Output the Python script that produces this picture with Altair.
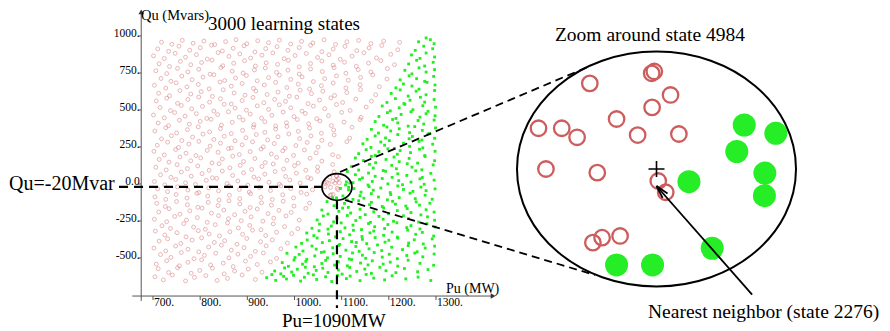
import altair as alt
import pandas as pd

# ---------------- data ----------------
# learning states that are "pink" (left of the security boundary): (Pu MW, Qu Mvar)
PINK = [
 (704,-627),(722,-648),(741,-615),(769,-655),(788,-631),(812,-619),(836,-652),(858,-638),(889,-614),(917,-645),
 (711,-572),(733,-598),(752,-566),(781,-603),(799,-584),(826,-569),(851,-607),(873,-588),(902,-575),(931,-596),
 (707,-541),(729,-518),(756,-553),(774,-529),(803,-512),(822,-547),(849,-535),(870,-558),(896,-521),(921,-544),(949,-527),
 (716,-477),(738,-496),(760,-463),(787,-505),(809,-482),(833,-468),(861,-499),(880,-474),(907,-489),(934,-466),(962,-503),
 (702,-433),(727,-452),(748,-419),(774,-441),(797,-458),(818,-426),(845,-413),(866,-447),(893,-430),(917,-455),(940,-418),(971,-438),
 (713,-386),(731,-371),(759,-402),(783,-379),(803,-364),(830,-395),(852,-383),(878,-407),(899,-368),(928,-390),(953,-377),(985,-399),
 (705,-318),(725,-344),(751,-329),(770,-357),(796,-315),(819,-338),(841,-351),(863,-323),(890,-340),(911,-312),(939,-348),(962,-326),(994,-335),
 (719,-282),(737,-300),(765,-268),(786,-291),(811,-306),(832,-275),(858,-263),(881,-297),(905,-280),(929,-309),(955,-270),(979,-288),(1007,-302),
 (703,-238),(729,-255),(746,-219),(771,-243),(794,-227),(815,-259),(839,-214),(860,-235),(887,-248),(908,-222),(933,-251),(956,-231),(982,-216),(1010,-244),
 (712,-189),(734,-167),(757,-204),(778,-181),(804,-163),(824,-197),(850,-176),(873,-208),(895,-185),(921,-169),(944,-200),(967,-178),(993,-192),(1024,-165),
 (708,-131),(726,-152),(750,-118),(773,-140),(795,-157),(817,-124),(838,-146),(861,-113),(884,-135),(906,-159),(930,-127),(951,-143),(976,-116),(999,-149),(1032,-129),
 (704,-87),(727,-104),(749,-71),(772,-95),(793,-63),(816,-82),(840,-108),(862,-76),(884,-99),(907,-66),(929,-90),(953,-105),(975,-73),(998,-94),(1026,-68),
 (710,-33),(731,-52),(752,-19),(774,-41),(797,-58),(818,-27),(839,-46),(861,-14),(883,-37),(904,-55),(926,-23),(949,-44),(971,-12),(992,-31),(1014,-57),(1038,-39),
 (703,17),(725,-6),(748,31),(769,8),(790,-3),(813,25),(835,38),(857,3),(880,20),(901,-8),(924,34),(946,12),(968,-1),(990,27),(1012,6),(1035,36),
 (716,62),(738,45),(760,81),(781,53),(804,70),(826,42),(847,88),(869,58),(892,76),(914,47),(937,66),(959,84),(981,51),(1004,73),(1028,44),(1049,86),(1084,82),
 (706,113),(728,95),(751,131),(773,104),(795,122),(819,92),(840,137),(863,109),(885,126),(909,98),(931,118),(955,135),(977,101),(1000,124),(1024,93),(1049,115),(1081,132),
 (713,166),(734,148),(757,183),(780,157),(801,176),(825,143),(847,169),(869,188),(892,152),(916,172),(938,145),(962,180),(984,160),(1008,141),(1033,174),(1058,155),(1093,185),
 (702,221),(724,196),(748,233),(770,208),(791,192),(815,227),(838,214),(860,239),(883,199),(906,219),(929,236),(951,203),(975,224),(998,193),(1021,230),(1046,211),(1081,198),
 (709,262),(731,283),(754,247),(776,270),(797,288),(821,256),(843,276),(866,243),(889,265),(911,285),(934,251),(957,273),(980,242),(1003,260),(1027,281),(1050,249),(1076,268),(1111,286),
 (718,305),(739,326),(761,294),(784,317),(806,337),(829,301),(851,322),(874,292),(897,313),(919,334),(943,298),(965,319),(988,338),(1011,307),(1035,325),(1058,295),(1084,331),(1117,310),
 (704,358),(727,380),(750,345),(773,367),(796,386),(820,352),(843,374),(866,341),(890,362),(913,384),(937,349),(960,371),(984,389),(1008,356),(1032,377),(1057,343),(1083,365),(1122,383),
 (711,412),(733,394),(756,431),(777,404),(800,423),(823,437),(845,398),(868,417),(891,433),(914,401),(937,421),(960,392),(983,414),(1006,436),(1030,407),(1054,426),(1078,395),(1105,418),(1139,435),
 (701,466),(724,447),(746,483),(768,458),(792,475),(814,443),(837,469),(860,488),(883,452),(906,473),(930,445),(952,464),(976,486),(999,455),(1023,477),(1047,441),(1072,462),(1100,484),(1141,450),
 (715,517),(737,496),(760,531),(782,508),(805,524),(829,493),(851,538),(874,513),(898,499),(921,528),(945,504),(968,535),(992,515),(1016,492),(1040,526),(1064,509),(1089,537),(1118,497),(1152,520),
 (707,562),(729,580),(752,545),(774,571),(797,588),(820,553),(843,576),(866,541),(889,564),(912,585),(935,549),(958,572),(981,558),(1005,587),(1029,543),(1053,567),(1077,582),(1102,551),(1130,574),(1163,560),
 (712,613),(735,596),(757,631),(780,608),(802,624),(826,592),(849,637),(872,615),(895,600),(918,628),(942,605),(965,621),(989,593),(1012,634),(1036,611),(1060,627),(1085,598),(1111,618),(1140,638),(1172,603),
 (703,667),(727,648),(749,684),(772,656),(796,673),(819,643),(842,689),(866,661),(889,679),(913,646),(936,669),(960,687),(984,652),(1008,674),(1032,642),(1057,664),(1082,682),(1109,649),(1139,671),(1180,657),
 (717,713),(738,694),(761,729),(783,705),(806,722),(829,738),(852,699),(875,716),(898,733),(921,697),(945,719),(968,736),(992,707),(1016,724),(1040,692),(1064,712),(1089,731),(1114,701),(1140,720),(1166,737),(1196,709),
 (706,765),(729,746),(752,781),(774,758),(797,775),(821,742),(844,787),(868,762),(891,749),(915,771),(938,784),(962,754),(986,769),(1010,743),(1034,777),(1059,760),(1084,786),(1109,748),(1135,773),(1162,757),(1197,780),
 (713,812),(735,794),(758,829),(780,806),(803,821),(825,837),(848,799),(871,816),(894,833),(917,797),(940,819),(964,808),(987,836),(1010,792),(1034,814),(1058,831),(1082,803),(1106,823),(1131,795),(1157,817),(1183,834),(1212,806),
 (701,866),(724,848),(747,883),(769,857),(792,874),(815,844),(838,888),(861,862),(884,879),(907,851),(931,870),(954,886),(978,847),(1001,868),(1025,882),(1049,855),(1073,873),(1097,843),(1122,864),(1147,887),(1174,852),(1204,876),
 (710,913),(733,896),(755,931),(778,904),(800,921),(824,938),(847,899),(870,917),(893,934),(916,892),(939,915),(963,928),(986,903),(1010,922),(1034,937),(1058,894),(1082,912),(1107,930),(1132,901),(1158,919),(1185,936),(1219,907),
 (718,958),(740,944),(762,971),(785,951),(808,966),(831,942),(854,962),(876,975),(899,948),(922,968),(945,955),(968,972),(992,946),(1015,964),(1039,953),(1063,974),(1087,943),(1111,961),(1136,970),(1162,949),(1189,966),(1223,957),
]

# learning states that are "green" (right of the boundary)
GREEN = [
 (941,-633),(952,-612),(960,-651),(977,-624),(983,-642),(998,-617),(1013,-656),(1021,-630),(1040,-614),(1047,-645),(1066,-627),(1079,-659),
 (1091,-618),(1110,-639),(1118,-622),(1139,-653),(1152,-611),(1168,-636),(1191,-648),(1207,-620),(1236,-641),(1262,-629),(1289,-652),
 (958,-588),(971,-607),(979,-567),(994,-595),(1006,-576),(1023,-562),(1029,-603),(1046,-584),(1060,-569),(1071,-598),(1093,-581),
 (1101,-609),(1117,-564),(1132,-591),(1149,-575),(1163,-604),(1181,-563),(1194,-586),(1215,-599),(1233,-571),(1261,-593),(1283,-578),
 (974,-531),(987,-556),(999,-514),(1017,-542),(1024,-523),(1042,-559),(1058,-537),(1066,-516),(1085,-548),(1093,-526),(1112,-553),
 (1121,-511),(1140,-534),(1156,-547),(1165,-519),(1188,-541),(1203,-528),(1219,-555),(1241,-515),(1266,-536),(1295,-549),
 (984,-468),(1001,-497),(1010,-476),(1026,-509),(1043,-486),(1057,-462),(1070,-499),(1082,-471),(1097,-489),(1116,-507),(1123,-466),
 (1144,-481),(1151,-502),(1169,-463),(1186,-494),(1201,-475),(1218,-505),(1238,-483),(1255,-467),(1272,-492),(1296,-473),
 (1003,-426),(1018,-453),(1037,-419),(1046,-440),(1063,-458),(1081,-431),(1094,-415),(1109,-447),(1130,-422),(1137,-455),
 (1158,-438),(1176,-412),(1185,-450),(1206,-427),(1229,-443),(1241,-416),(1260,-458),(1277,-433),(1297,-420),
 (1015,-401),(1027,-378),(1048,-365),(1059,-396),(1074,-383),(1096,-408),(1103,-369),(1121,-389),(1131,-395),(1144,-374),
 (1153,-403),(1171,-362),(1192,-393),(1200,-380),(1219,-366),(1242,-399),(1254,-377),(1273,-405),(1292,-371),
 (1026,-331),(1041,-349),(1052,-316),(1072,-338),(1087,-357),(1097,-322),(1117,-343),(1125,-313),(1143,-355),
 (1160,-330),(1168,-318),(1189,-347),(1207,-325),(1218,-359),(1240,-312),(1257,-340),(1271,-327),(1295,-352),
 (1037,-299),(1053,-271),(1071,-305),(1078,-284),(1099,-263),(1107,-296),(1124,-278),(1142,-308),(1157,-267),
 (1170,-289),(1191,-301),(1198,-274),(1217,-262),(1238,-295),(1247,-281),(1266,-304),(1281,-268),(1298,-290),
 (1048,-243),(1061,-216),(1083,-256),(1090,-231),(1112,-213),(1130,-247),(1139,-226),(1161,-259),
 (1179,-219),(1188,-238),(1210,-252),(1231,-215),(1242,-234),(1263,-257),(1282,-222),(1297,-245),
 (1058,-176),(1071,-203),(1094,-185),(1102,-163),(1119,-196),(1139,-171),(1150,-207),(1168,-188),
 (1189,-162),(1199,-201),(1218,-180),(1239,-166),(1247,-193),(1268,-209),(1279,-174),(1296,-190),
 (1069,-119),(1084,-147),(1106,-131),(1114,-158),(1136,-113),(1159,-140),(1163,-124),
 (1186,-152),(1208,-117),(1214,-136),(1236,-149),(1258,-121),(1265,-143),(1287,-130),
 (1112,-108),(1124,-104),(1139,-79),(1147,-96),(1163,-65),(1178,-88),(1197,-107),(1204,-71),(1222,-92),(1245,-62),(1256,-99),(1277,-76),(1292,-103),
 (1126,-31),(1141,-55),(1158,-18),(1167,-42),(1183,-27),(1203,-58),(1219,-13),(1231,-37),(1251,-50),(1268,-21),(1279,-45),(1298,-33),
 (1124,9),(1138,31),(1156,-7),(1165,17),(1186,37),(1198,1),(1221,23),(1229,-5),(1247,13),(1266,35),(1275,-2),(1296,26),
 (1112,84),(1129,63),(1144,41),(1157,74),(1171,52),(1193,86),(1207,45),(1219,69),(1238,58),(1257,89),(1271,44),(1289,72),
 (1121,118),(1136,94),(1159,133),(1167,108),(1188,91),(1206,126),(1216,103),(1239,137),(1249,114),(1270,96),(1294,129),
 (1129,176),(1146,158),(1163,187),(1172,144),(1194,166),(1211,182),(1222,151),(1243,173),(1261,141),(1277,186),(1297,157),
 (1136,205),(1152,232),(1171,193),(1179,219),(1198,238),(1218,201),(1224,226),(1246,212),(1265,235),(1276,192),(1298,221),
 (1145,272),(1162,247),(1183,284),(1191,262),(1212,241),(1231,276),(1244,254),(1264,288),(1272,244),(1293,269),
 (1154,302),(1171,325),(1193,311),(1201,293),(1219,334),(1243,306),(1250,321),(1270,297),(1283,338),(1297,309),
 (1163,369),(1178,344),(1196,385),(1204,358),(1222,373),(1244,347),(1255,388),(1271,362),(1286,341),(1299,379),
 (1171,422),(1189,397),(1208,436),(1219,413),(1241,391),(1262,429),(1274,405),(1296,432),
 (1179,456),(1197,482),(1215,443),(1226,470),(1247,488),(1266,452),(1279,475),(1298,461),
 (1186,527),(1203,494),(1222,515),(1234,538),(1251,502),(1272,529),(1283,491),(1299,519),
 (1196,551),(1214,577),(1232,544),(1245,566),(1267,586),(1276,553),(1296,571),
 (1205,612),(1224,636),(1241,594),(1258,627),(1279,603),(1297,632),
 (1215,650),(1231,676),(1249,662),(1264,641),(1281,687),(1298,669),
 (1224,704),(1243,731),(1259,712),(1276,693),(1295,727),
 (1234,768),(1249,744),(1264,785),(1279,756),(1297,773),
 (1242,811),(1259,836),(1276,797),(1294,822),
 (1248,872),(1266,849),(1279,885),(1297,858),
 (1256,903),(1274,931),(1293,914),
 (1263,961),(1279,987),(1288,975),(1296,948),
]

# states in the neighbourhood of state 4984 (shown in the zoom)
ZOOM_PINK = [
 (1074.8,45.6),(1088.9,53.3),(1089.5,54.7),(1093.2,36.7),(1089.0,27.2),(1080.9,18.3),
 (1063.1,11.2),(1068.4,11.2),(1071.9,4.3),(1085.7,6.0),(1095.1,6.8),(1064.8,-20.0),
 (1076.5,-22.8),(1090.4,-29.2),(1092.1,-37.8),(1075.5,-76.4),(1077.6,-72.6),(1081.7,-71.3),
]
ZOOM_GREEN = [
 (1110.0,13.7),(1117.2,7.3),(1108.3,-6.6),(1114.7,-23.1),(1114.6,-40.4),
 (1097.4,-29.7),(1102.7,-80.7),(1080.9,-93.5),(1089.1,-93.5),
]
STATE = (1090, -20)
ARROW_TIP = (1090.0, -33.0)
ARROW_TAIL = (1111.8, -116.2)

X_TICKS = [700, 800, 900, 1000, 1100, 1200, 1300]
X_TICK_LABELS = ["700.", "800.", "900.", "1000.", "1100.", "1200.", "1300."]
Y_TICKS = [-500, -250, 0, 250, 500, 750, 1000]
Y_TICK_LABELS = ["-500.", "-250.", "0.0", "250.", "500.", "750.", "1000."]

# ---------------- layout ----------------
W, H = 874, 323
FONT = "Liberation Serif"
XS = alt.Scale(domain=[700, 1300], range=[145, 428], nice=False, zero=False)
YS = alt.Scale(domain=[-500, 1000], range=[250, 28], nice=False, zero=False)
ZXS = alt.Scale(domain=[1058.2, 1121.8], range=[509, 788], nice=False, zero=False)
ZYS = alt.Scale(domain=[-110, 70], range=[278.5, 43.5], nice=False, zero=False)
AXIS_PU = 675     # where the vertical axis sits
AXIS_QU = -757    # where the horizontal axis sits

SMALL_ELLIPSE = ("M -1 0 C -1 -0.49 -0.5523 -0.887 0 -0.887 C 0.5523 -0.887 1 -0.49 1 0 "
                 "C 1 0.49 0.5523 0.887 0 0.887 C -0.5523 0.887 -1 0.49 -1 0 Z")
BIG_ELLIPSE = ("M -1 0 C -1 -0.465 -0.5523 -0.842 0 -0.842 C 0.5523 -0.842 1 -0.465 1 0 "
               "C 1 0.465 0.5523 0.842 0 0.842 C -0.5523 0.842 -1 0.465 -1 0 Z")
PLUS = "M -1 0 L 1 0 M 0 -1 L 0 1"
ARROW_HEAD = "M -0.5 2 L 0 0 L 0.5 2"


def enc(xf, yf, xs, ys, x2=None, y2=None):
    e = {"x": alt.X(xf, type="quantitative", scale=xs, axis=None),
         "y": alt.Y(yf, type="quantitative", scale=ys, axis=None)}
    if x2:
        e["x2"] = alt.X2(x2)
    if y2:
        e["y2"] = alt.Y2(y2)
    return e


one = pd.DataFrame({"k": [0]})
layers = []

# scatter of the learning states
df_pink = pd.DataFrame(PINK + ZOOM_PINK, columns=["Pu", "Qu"])
df_green = pd.DataFrame(GREEN + ZOOM_GREEN, columns=["Pu", "Qu"])
layers.append(alt.Chart(df_pink).mark_point(shape="circle", filled=False, size=15, strokeWidth=1,
                                             color="#d97a7a", opacity=0.55)
              .encode(**enc("Pu", "Qu", XS, YS)))
layers.append(alt.Chart(df_green).mark_square(size=8, color="#22ee22", opacity=1)
              .encode(**enc("Pu", "Qu", XS, YS)))

# hand-made axes
df_axes = pd.DataFrame({"x": [AXIS_PU, 656], "y": [-790, AXIS_QU],
                        "x2": [AXIS_PU, 1418], "y2": [1160, AXIS_QU]})
layers.append(alt.Chart(df_axes).mark_rule(color="#555555", strokeWidth=1)
              .encode(**enc("x", "y", XS, YS, "x2", "y2")))
layers.append(alt.Chart(pd.DataFrame({"x": [AXIS_PU], "y": [1163]}))
              .mark_point(shape="triangle-up", filled=True, size=30, color="#333333", opacity=1)
              .encode(**enc("x", "y", XS, YS)))
layers.append(alt.Chart(pd.DataFrame({"x": [1421], "y": [AXIS_QU]}))
              .mark_point(shape="triangle-right", filled=True, size=30, color="#333333", opacity=1)
              .encode(**enc("x", "y", XS, YS)))

df_xt = pd.DataFrame({"Pu": X_TICKS, "lab": X_TICK_LABELS})
df_xt["y"] = AXIS_QU
df_xt["y2"] = AXIS_QU - 27
layers.append(alt.Chart(df_xt).mark_rule(color="#555555", strokeWidth=1)
              .encode(**enc("Pu", "y", XS, YS, None, "y2")))
layers.append(alt.Chart(df_xt).mark_text(align="left", baseline="middle", dx=1, dy=7,
                                          font=FONT, fontSize=11.5, color="black")
              .encode(text="lab:N", **enc("Pu", "y", XS, YS)))

df_yt = pd.DataFrame({"Qu": Y_TICKS, "lab": Y_TICK_LABELS})
df_yt["x"] = 668
df_yt["x2"] = AXIS_PU
layers.append(alt.Chart(df_yt).mark_rule(color="#555555", strokeWidth=1)
              .encode(**enc("x", "Qu", XS, YS, "x2", None)))
layers.append(alt.Chart(df_yt).mark_text(align="right", baseline="alphabetic", dx=-1.5, dy=0.5,
                                          font=FONT, fontSize=11.5, color="black")
              .encode(text="lab:N", **enc("x2", "Qu", XS, YS)))

# guide lines to state 4984
df_dash = pd.DataFrame({"x": [628, STATE[0]], "x2": [1058.2, STATE[0]],
                        "y": [STATE[1], -110], "y2": [STATE[1], -838]})
layers.append(alt.Chart(df_dash).mark_rule(color="black", strokeWidth=2.2, strokeDash=[9, 6])
              .encode(**enc("x", "y", XS, YS, "x2", "y2")))
df_state = pd.DataFrame({"Pu": [STATE[0]], "Qu": [STATE[1]]})
layers.append(alt.Chart(df_state).mark_point(shape=SMALL_ELLIPSE, filled=False, size=900,
                                              strokeWidth=1.7, color="black", opacity=1)
              .encode(**enc("Pu", "Qu", XS, YS)))

# connectors between the small and the big ellipse
for (xa, ya), (xb, yb) in [((332, 164), (582, 58)), ((337, 192), (587, 267))]:
    layers.append(alt.Chart(one).mark_rule(color="black", strokeWidth=1.8, strokeDash=[8, 5])
                  .encode(x=alt.value(xa), y=alt.value(ya), x2=alt.value(xb), y2=alt.value(yb)))

# zoom panel
layers.append(alt.Chart(df_state).mark_point(shape=BIG_ELLIPSE, filled=False, size=77841,
                                              strokeWidth=2, color="black", opacity=1)
              .encode(**enc("Pu", "Qu", ZXS, ZYS)))
layers.append(alt.Chart(pd.DataFrame(ZOOM_PINK, columns=["Pu", "Qu"]))
              .mark_point(shape="circle", filled=False, size=240, strokeWidth=2.3,
                          color="#cd5c5c", opacity=1)
              .encode(**enc("Pu", "Qu", ZXS, ZYS)))
layers.append(alt.Chart(pd.DataFrame(ZOOM_GREEN, columns=["Pu", "Qu"]))
              .mark_point(shape="circle", filled=True, size=530, color="#26ee26", opacity=1)
              .encode(**enc("Pu", "Qu", ZXS, ZYS)))
layers.append(alt.Chart(df_state).mark_point(shape=PLUS, filled=False, size=256,
                                              strokeWidth=1.6, color="black", opacity=1)
              .encode(**enc("Pu", "Qu", ZXS, ZYS)))
df_arrow = pd.DataFrame({"x": [ARROW_TAIL[0]], "y": [ARROW_TAIL[1]],
                         "x2": [ARROW_TIP[0]], "y2": [ARROW_TIP[1]]})
layers.append(alt.Chart(df_arrow).mark_rule(color="black", strokeWidth=1.8)
              .encode(**enc("x", "y", ZXS, ZYS, "x2", "y2")))
layers.append(alt.Chart(pd.DataFrame({"Pu": [ARROW_TIP[0]], "Qu": [ARROW_TIP[1]]}))
              .mark_point(shape=ARROW_HEAD, filled=False, size=169, strokeWidth=1.8,
                          color="black", opacity=1, angle=318.7)
              .encode(**enc("Pu", "Qu", ZXS, ZYS)))

# texts
TEXTS = [
    ("Qu (Mvars)", 133, 12, 14.5, "left"),
    ("3000 learning states", 200, 21.5, 19, "left"),
    ("Pu (MW)", 438, 285, 14, "left"),
    ("Qu=-20Mvar", 1, 182, 20, "left"),
    ("Pu=1090MW", 274, 318.5, 19, "left"),
    ("Zoom around state 4984", 642, 32.7, 19.5, "center"),
    ("Nearest neighbor (state 2276)", 640, 310.3, 19.5, "left"),
]
for txt, tx, ty, fs, al in TEXTS:
    layers.append(alt.Chart(one).mark_text(text=txt, font=FONT, fontSize=fs, align=al,
                                           baseline="alphabetic", color="black")
                  .encode(x=alt.value(tx), y=alt.value(ty)))

chart = (alt.layer(*layers)
         .resolve_scale(x="independent", y="independent")
         .properties(width=W, height=H, padding=0, background="white",
                     autosize=alt.AutoSizeParams(type="none"))
         .configure_view(stroke=None))

chart.save("out.html", embed_options={"renderer": "svg", "actions": False})
